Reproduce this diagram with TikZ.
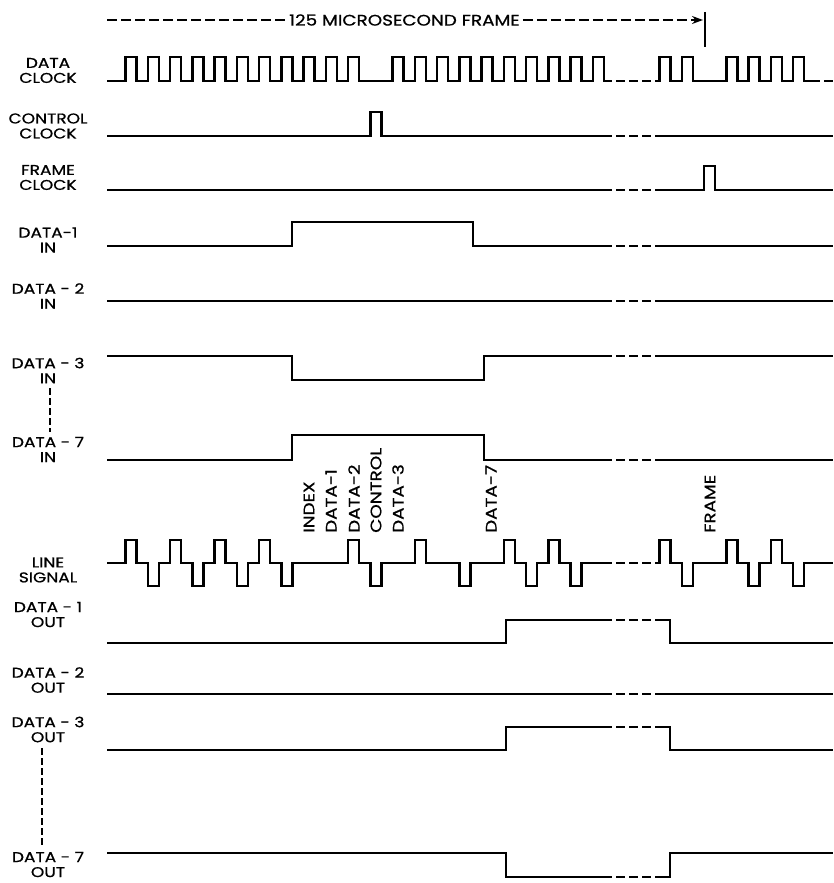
\documentclass[tikz,border=0pt]{standalone}
\usepackage{fontspec}
\usetikzlibrary{arrows.meta}
\newfontfamily\ppfont[FakeStretch=1.2,FakeBold=0.8]{Poppins}
\newcommand{\lblfont}{\ppfont\fontsize{14.2}{15}\selectfont}
\newcommand{\slotfont}{\ppfont\fontsize{15.3}{15}\selectfont}
\newcommand{\framefont}{\ppfont\fontsize{15.3}{15}\selectfont}
\tikzstyle{trace} = [line width=2.5pt, line join=miter, black]
\tikzstyle{brk} = [dash pattern=on 9pt off 4pt]
\tikzstyle{siglabel} = [align=center, font=\lblfont, inner sep=0pt]
\tikzstyle{slotlabel} = [rotate=90, anchor=west, font=\slotfont, inner sep=0pt]
\tikzstyle{frametext} = [font=\framefont, inner sep=3pt]
\tikzstyle{dimline} = [line width=1.4pt, dash pattern=on 10pt off 4pt, >={Stealth[length=11pt,width=8pt]}]
\tikzstyle{vdash} = [line width=1.1pt, dash pattern=on 7pt off 3pt]
\begin{document}
\begin{tikzpicture}[x=1pt, y=-1pt]
\fill[white] (0,0) rectangle (834,883);
\useasboundingbox (0,0) rectangle (834,883);

% frame length
\coordinate (fstart) at (107,20);
\coordinate (fend) at (703,20);
\coordinate (ftop) at (705,12);
\coordinate (fbot) at (705,47);
\node (ftxt) [frametext] at (404.5,20) {125 MICROSECOND FRAME};
\draw [dimline] (fstart) -- (ftxt.west);
\draw [dimline,->] (ftxt.east) -- (fend);
\draw [line width=1.4pt] (ftop) -- (fbot);

% signal names
\node (dclk) [siglabel] at (48,70.5) {DATA\\CLOCK};
\node (cclk) [siglabel] at (48,126) {CONTROL\\CLOCK};
\node (fclk) [siglabel] at (48,177.5) {FRAME\\CLOCK};
\node (din1) [siglabel] at (48,240) {DATA-1\\IN};
\node (din2) [siglabel] at (48,296) {DATA - 2\\IN};
\node (din3) [siglabel] at (48,370.5) {DATA - 3\\IN};
\node (din7) [siglabel] at (48,449.5) {DATA - 7\\IN};
\node (line) [siglabel] at (48,570) {LINE\\SIGNAL};
\node (dout1) [siglabel] at (48,614.5) {DATA - 1\\OUT};
\node (dout2) [siglabel] at (48,680) {DATA - 2\\OUT};
\node (dout3) [siglabel] at (48,729.5) {DATA - 3\\OUT};
\node (dout7) [siglabel] at (48,864.5) {DATA - 7\\OUT};
\coordinate (in3a) at (50,388);
\coordinate (in7a) at (50,432);
\coordinate (out3a) at (42,748);
\coordinate (out7a) at (42,846);
\draw [vdash] (in3a) -- (in7a);
\draw [vdash] (out3a) -- (out7a);

% time slot names
\node (sidx) [slotlabel] at (309,533) {INDEX};
\node (sd1) [slotlabel] at (331,533) {DATA-1};
\node (sd2) [slotlabel] at (354,533) {DATA-2};
\node (sctl) [slotlabel] at (376,533) {CONTROL};
\node (sd3) [slotlabel] at (398,533) {DATA-3};
\node (sd7) [slotlabel] at (491,533) {DATA-7};
\node (sfrm) [slotlabel] at (710,533) {FRAME};

% clocks
\draw [trace] (107,81) foreach \k in {0,1,2,3,4,5,6,7,8,9,10,12,13,14,15,16,17,18,19,20,21}
  { -- ({125.5+22.25*\k},81) -- ++(0,-24) -- ++(11.1,0) -- ++(0,24) } -- (612,81);
\draw [trace] (655,81) foreach \k in {24,25,27,28,29,30}
  { -- ({125.5+22.25*\k},81) -- ++(0,-24) -- ++(11.1,0) -- ++(0,24) } -- (820,81);
\draw [trace] (824,81) -- (833,81);
\draw [trace] (107,136) -- (370.25,136) -- ++(0,-24) -- ++(11.1,0) -- ++(0,24) -- (612,136);
\draw [trace] (655,136) -- (833,136);
\draw [trace] (107,190) -- (612,190);
\draw [trace] (655,190) -- (704,190) -- ++(0,-24) -- ++(11.1,0) -- ++(0,24) -- (833,190);

% inputs
\draw [trace] (107,246) -- (292,246) -- (292,222) -- (473,222) -- (473,246) -- (612,246);
\draw [trace] (655,246) -- (833,246);
\draw [trace] (107,301) -- (612,301);
\draw [trace] (655,301) -- (833,301);
\draw [trace] (107,356) -- (292,356) -- (292,380) -- (484,380) -- (484,356) -- (612,356);
\draw [trace] (655,356) -- (833,356);
\draw [trace] (107,460) -- (292,460) -- (292,435) -- (484,435) -- (484,460) -- (612,460);
\draw [trace] (655,460) -- (833,460);

% line signal
\draw [trace] (107,563) foreach \k/\s in {0/1,1/-1,2/1,3/-1,4/1,5/-1,6/1,7/-1,10/1,11/-1,13/1,15/-1,17/1,18/-1,19/1,20/-1}
  { -- ({125.5+22.25*\k},563) -- ++(0,-23*\s) -- ++(11.1,0) -- ++(0,23*\s) } -- (612,563);
\draw [trace] (655,563) foreach \k/\s in {24/1,25/-1,27/1,28/-1,29/1,30/-1}
  { -- ({125.5+22.25*\k},563) -- ++(0,-23*\s) -- ++(11.1,0) -- ++(0,23*\s) } -- (833,563);

% outputs
\draw [trace] (107,643) -- (506,643) -- (506,620) -- (612,620);
\draw [trace] (655,620) -- (670,620) -- (670,643) -- (833,643);
\draw [trace] (107,694) -- (612,694);
\draw [trace] (655,694) -- (833,694);
\draw [trace] (107,750) -- (506,750) -- (506,727) -- (612,727);
\draw [trace] (655,727) -- (670,727) -- (670,750) -- (833,750);
\draw [trace] (107,853) -- (506,853) -- (506,877) -- (612,877);
\draw [trace] (655,877) -- (670,877) -- (670,853) -- (833,853);

% omitted slots
\foreach \y in {81,136,190,246,301,356,460,563,620,694,727,877}
  \draw [trace,brk] (616,\y) -- (651,\y);
\end{tikzpicture}
\end{document}
